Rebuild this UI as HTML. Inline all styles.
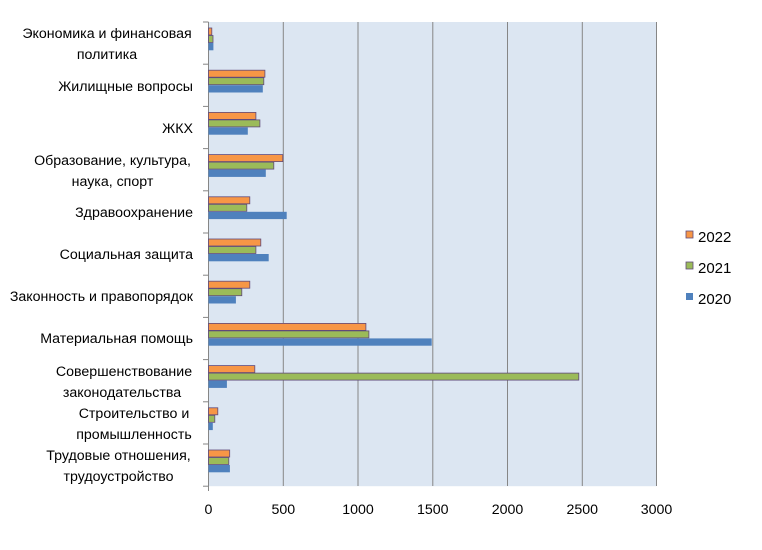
<!DOCTYPE html>
<html><head><meta charset="utf-8"><style>body{margin:0;background:#fff}svg{display:block}text{font-family:"Liberation Sans","DejaVu Sans",sans-serif;font-size:14.2px;fill:#000}</style></head>
<body>
<svg width="762" height="550" xmlns="http://www.w3.org/2000/svg">
<rect x="208.5" y="22" width="448" height="464.2" fill="#dce6f2"/>
<g stroke="#868686" stroke-width="1">
<line x1="283.3" y1="22" x2="283.3" y2="486"/>
<line x1="358" y1="22" x2="358" y2="486"/>
<line x1="432.8" y1="22" x2="432.8" y2="486"/>
<line x1="507.5" y1="22" x2="507.5" y2="486"/>
<line x1="582.3" y1="22" x2="582.3" y2="486"/>
<line x1="656.5" y1="22" x2="656.5" y2="486"/>
<line x1="208.5" y1="22" x2="208.5" y2="491"/>
<line x1="203" y1="22" x2="208.5" y2="22"/>
<line x1="203" y1="64.2" x2="208.5" y2="64.2"/>
<line x1="203" y1="106.4" x2="208.5" y2="106.4"/>
<line x1="203" y1="148.6" x2="208.5" y2="148.6"/>
<line x1="203" y1="190.8" x2="208.5" y2="190.8"/>
<line x1="203" y1="233" x2="208.5" y2="233"/>
<line x1="203" y1="275.2" x2="208.5" y2="275.2"/>
<line x1="203" y1="317.4" x2="208.5" y2="317.4"/>
<line x1="203" y1="359.6" x2="208.5" y2="359.6"/>
<line x1="203" y1="401.8" x2="208.5" y2="401.8"/>
<line x1="203" y1="444" x2="208.5" y2="444"/>
<line x1="203" y1="486.2" x2="208.5" y2="486.2"/>
</g>
<g>
<g transform="translate(208.5,22)"><rect y="6" width="3.3" height="7" fill="#f79646" stroke="#604a7b" stroke-width="0.8"/><rect y="13.5" width="4.5" height="7" fill="#9bbb59" stroke="#604a7b" stroke-width="0.8"/><rect y="21" width="4.9" height="7.3" fill="#4f81bd"/></g>
<g transform="translate(208.5,64.2)"><rect y="6" width="56.4" height="7" fill="#f79646" stroke="#604a7b" stroke-width="0.8"/><rect y="13.5" width="55.3" height="7" fill="#9bbb59" stroke="#604a7b" stroke-width="0.8"/><rect y="21" width="54.3" height="7.3" fill="#4f81bd"/></g>
<g transform="translate(208.5,106.4)"><rect y="6" width="47.4" height="7" fill="#f79646" stroke="#604a7b" stroke-width="0.8"/><rect y="13.5" width="51.4" height="7" fill="#9bbb59" stroke="#604a7b" stroke-width="0.8"/><rect y="21" width="39.3" height="7.3" fill="#4f81bd"/></g>
<g transform="translate(208.5,148.6)"><rect y="6" width="74.3" height="7" fill="#f79646" stroke="#604a7b" stroke-width="0.8"/><rect y="13.5" width="65.3" height="7" fill="#9bbb59" stroke="#604a7b" stroke-width="0.8"/><rect y="21" width="57.3" height="7.3" fill="#4f81bd"/></g>
<g transform="translate(208.5,190.8)"><rect y="6" width="41.3" height="7" fill="#f79646" stroke="#604a7b" stroke-width="0.8"/><rect y="13.5" width="38.3" height="7" fill="#9bbb59" stroke="#604a7b" stroke-width="0.8"/><rect y="21" width="78.2" height="7.3" fill="#4f81bd"/></g>
<g transform="translate(208.5,233)"><rect y="6" width="52.3" height="7" fill="#f79646" stroke="#604a7b" stroke-width="0.8"/><rect y="13.5" width="47.4" height="7" fill="#9bbb59" stroke="#604a7b" stroke-width="0.8"/><rect y="21" width="60.2" height="7.3" fill="#4f81bd"/></g>
<g transform="translate(208.5,275.2)"><rect y="6" width="41.3" height="7" fill="#f79646" stroke="#604a7b" stroke-width="0.8"/><rect y="13.5" width="33.3" height="7" fill="#9bbb59" stroke="#604a7b" stroke-width="0.8"/><rect y="21" width="27.4" height="7.3" fill="#4f81bd"/></g>
<g transform="translate(208.5,317.4)"><rect y="6" width="157.4" height="7" fill="#f79646" stroke="#604a7b" stroke-width="0.8"/><rect y="13.5" width="160.4" height="7" fill="#9bbb59" stroke="#604a7b" stroke-width="0.8"/><rect y="21" width="223.2" height="7.3" fill="#4f81bd"/></g>
<g transform="translate(208.5,359.6)"><rect y="6" width="46.3" height="7" fill="#f79646" stroke="#604a7b" stroke-width="0.8"/><rect y="13.5" width="370.3" height="7" fill="#9bbb59" stroke="#604a7b" stroke-width="0.8"/><rect y="21" width="18.4" height="7.3" fill="#4f81bd"/></g>
<g transform="translate(208.5,401.8)"><rect y="6" width="9.3" height="7" fill="#f79646" stroke="#604a7b" stroke-width="0.8"/><rect y="13.5" width="6.3" height="7" fill="#9bbb59" stroke="#604a7b" stroke-width="0.8"/><rect y="21" width="4.3" height="7.3" fill="#4f81bd"/></g>
<g transform="translate(208.5,444)"><rect y="6" width="21.2" height="7" fill="#f79646" stroke="#604a7b" stroke-width="0.8"/><rect y="13.5" width="20.3" height="7" fill="#9bbb59" stroke="#604a7b" stroke-width="0.8"/><rect y="21" width="21.4" height="7.3" fill="#4f81bd"/></g>
</g>
<g text-anchor="middle">
<text x="107" y="38">Экономика и финансовая</text>
<text x="107" y="59">политика</text>
<text x="193" y="91" text-anchor="end">Жилищные вопросы</text>
<text x="193" y="133" text-anchor="end">ЖКХ</text>
<text x="112.5" y="165">Образование, культура,</text>
<text x="112.5" y="186">наука, спорт</text>
<text x="193" y="217" text-anchor="end">Здравоохранение</text>
<text x="193" y="259" text-anchor="end">Социальная защита</text>
<text x="193" y="301" text-anchor="end">Законность и правопорядок</text>
<text x="193" y="343" text-anchor="end">Материальная помощь</text>
<text x="124" y="376">Совершенствование</text>
<text x="122" y="397">законодательства</text>
<text x="134" y="418">Строительство и</text>
<text x="134" y="439">промышленность</text>
<text x="118.5" y="460">Трудовые отношения,</text>
<text x="118.5" y="481">трудоустройство</text>
</g>
<g text-anchor="middle" style="font-size:15px">
<text x="208.5" y="514">0</text>
<text x="283.3" y="514">500</text>
<text x="358" y="514">1000</text>
<text x="432.8" y="514">1500</text>
<text x="507.5" y="514">2000</text>
<text x="582.3" y="514">2500</text>
<text x="656.5" y="514">3000</text>
</g>
<rect x="686" y="231" width="7" height="7" fill="#f79646" stroke="#604a7b" stroke-width="0.8"/>
<text x="698" y="242" style="font-size:15px">2022</text>
<rect x="686" y="262" width="7" height="7" fill="#9bbb59" stroke="#604a7b" stroke-width="0.8"/>
<text x="698" y="273" style="font-size:15px">2021</text>
<rect x="686" y="293" width="7" height="7" fill="#4f81bd"/>
<text x="698" y="304" style="font-size:15px">2020</text>
</svg>
</body></html>
